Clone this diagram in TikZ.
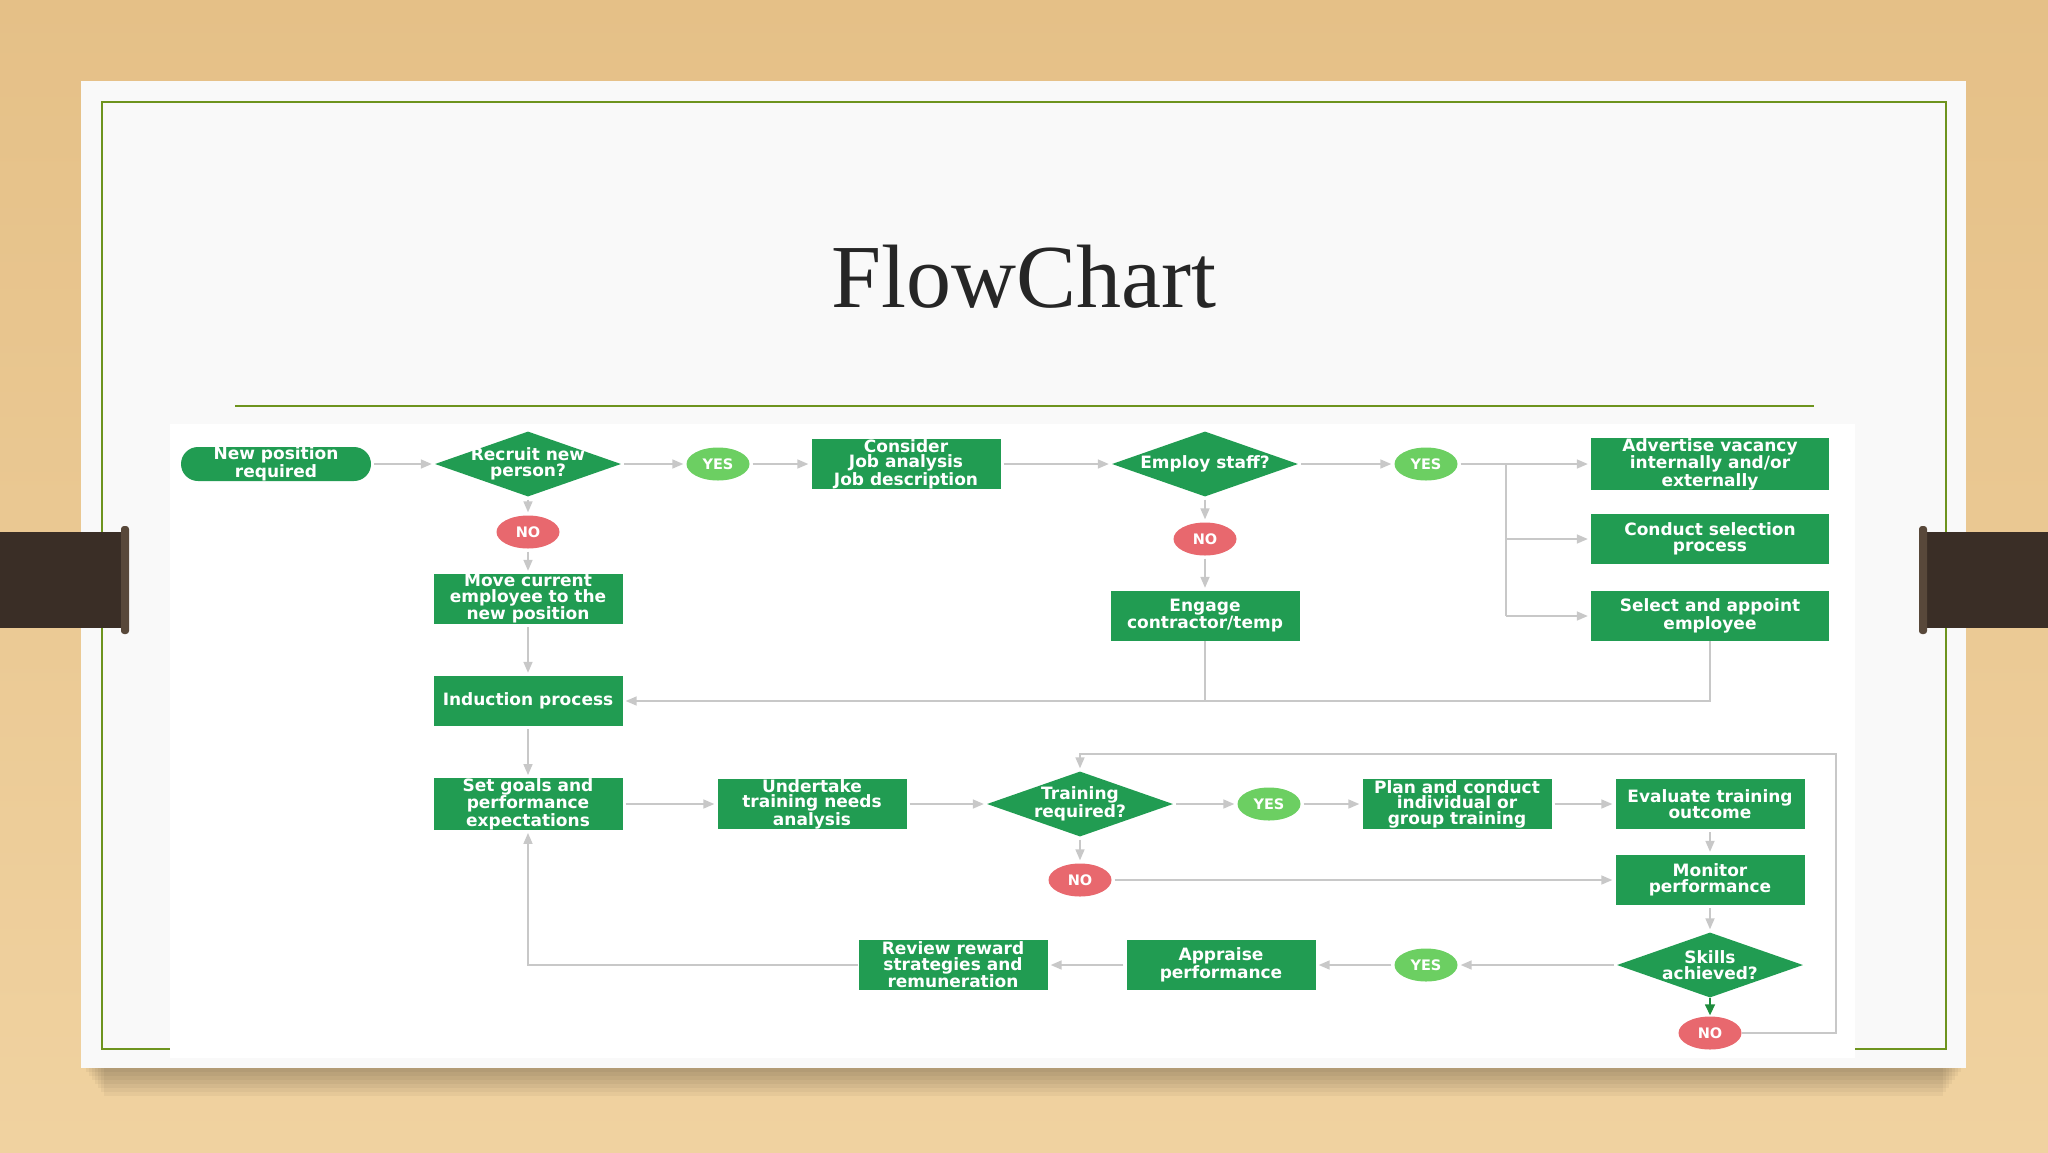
\documentclass[tikz,border=0pt]{standalone}
\usepackage{fontspec}
\setmainfont{Liberation Serif}
\newfontfamily\boxfont{DejaVu Sans}
\usetikzlibrary{shapes.geometric,arrows.meta}
\definecolor{woodtop}{RGB}{229,192,135}
\definecolor{woodbot}{RGB}{240,210,160}
\definecolor{slidebg}{RGB}{249,249,249}
\definecolor{framegreen}{RGB}{110,148,30}
\definecolor{titlegray}{RGB}{38,38,38}
\definecolor{tabbrown}{RGB}{58,46,38}
\definecolor{tabcap}{RGB}{88,72,58}
\definecolor{boxgreen}{RGB}{33,156,82}
\definecolor{yesgreen}{RGB}{108,207,98}
\definecolor{nored}{RGB}{232,104,110}
\definecolor{linegray}{RGB}{200,200,200}
\definecolor{darkarrow}{RGB}{30,140,60}
\tikzset{
  titlestyle/.style={font=\fontsize{90}{90}\selectfont, text=titlegray, anchor=base, inner sep=0pt},
  boxtext/.style={text=white, font=\boxfont\bfseries\fontsize{17}{15.5}\selectfont, align=center},
  stepbox/.style={rectangle, fill=boxgreen, minimum width=189pt, minimum height=50pt, inner sep=0pt, boxtext},
  widebox/.style={stepbox, minimum width=238pt},
  startbox/.style={rectangle, rounded corners=17pt, fill=boxgreen, minimum width=190pt, minimum height=34pt, inner sep=0pt, boxtext},
  decision/.style={diamond, fill=boxgreen, minimum width=186pt, minimum height=65pt, inner sep=0pt},
  dtext/.style={boxtext, inner sep=0pt},
  yesnode/.style={ellipse, fill=yesgreen, minimum width=63pt, minimum height=33pt, inner sep=0pt, text=white, font=\boxfont\bfseries\fontsize{14.5}{14.5}\selectfont},
  nonode/.style={yesnode, fill=nored},
  conn/.style={draw=linegray, line width=1.6pt, -{Triangle[length=11pt,width=9pt]}, shorten >=3pt, shorten <=3pt},
  plainconn/.style={draw=linegray, line width=1.6pt},
  greenconn/.style={draw=darkarrow, line width=1.6pt, -{Triangle[length=11pt,width=10pt]}, shorten >=1pt}
}
\begin{document}
\begin{tikzpicture}[x=1pt,y=-1pt]
\useasboundingbox (0,0) rectangle (2048,1152);
% background wood
\shade[top color=woodtop,bottom color=woodbot] (0,0) rectangle (2048,1152);
% shadow under slide
\foreach \i in {0,...,6} \fill[black,opacity=0.04] (86+\i*3,1066) rectangle (1961-\i*3,1072+\i*4);
% slide
\fill[slidebg] (81,81) rectangle (1966,1068);
\draw[framegreen,line width=2.5pt] (102,102) rectangle (1946,1049);
\node[titlestyle] (title) at (1024,307) {FlowChart};
\draw[framegreen,line width=2.5pt] (235,406) -- (1814,406);
% flowchart image area
\fill[white] (170,424) rectangle (1855,1058);
% tabs
\fill[tabbrown] (0,532) rectangle (126,628);
\fill[tabcap, rounded corners=3pt] (121,526) rectangle (129,634);
\fill[tabbrown] (1922,532) rectangle (2048,628);
\fill[tabcap, rounded corners=3pt] (1919,526) rectangle (1927,634);

% nodes
\node[startbox] (NP) at (276,464) {New position\\required};
\node[decision] (R) at (528,464) {};
\node[dtext] (Rt) at (R) {Recruit new\\person?};
\node[yesnode] (Y1) at (718,464) {YES};
\node[stepbox] (C) at (906,464) {Consider\\Job analysis\\Job description};
\node[decision] (E) at (1205,464) {};
\node[dtext] (Et) at (E) {Employ staff?};
\node[yesnode] (Y2) at (1426,464) {YES};
\node[widebox] (Adv) at (1710,464) {Advertise vacancy\\internally and/or\\externally};
\node[nonode] (N1) at (528,532) {NO};
\node[nonode] (N2) at (1205,539) {NO};
\node[widebox] (Cond) at (1710,539) {Conduct selection\\process};
\node[stepbox] (Mv) at (528,599) {Move current\\employee to the\\new position};
\node[stepbox] (Eng) at (1205,616) {Engage\\contractor/temp};
\node[widebox] (Sel) at (1710,616) {Select and appoint\\employee};
\node[stepbox] (Ind) at (528,701) {Induction process};
\node[stepbox] (Sg) at (528,804) {Set goals and\\performance\\expectations};
\node[stepbox] (Ut) at (812,804) {Undertake\\training needs\\analysis};
\node[decision] (T) at (1080,804) {};
\node[dtext] (Tt) at (T) {Training\\required?};
\node[yesnode] (Y3) at (1269,804) {YES};
\node[stepbox] (Pl) at (1457,804) {Plan and conduct\\individual or\\group training};
\node[stepbox] (Ev) at (1710,804) {Evaluate training\\outcome};
\node[nonode] (N3) at (1080,880) {NO};
\node[stepbox] (Mon) at (1710,880) {Monitor\\performance};
\node[decision] (Sk) at (1710,965) {};
\node[dtext] (Skt) at (Sk) {Skills\\achieved?};
\node[yesnode] (Y4) at (1426,965) {YES};
\node[stepbox] (Ap) at (1221,965) {Appraise\\performance};
\node[stepbox] (Rv) at (953,965) {Review reward\\strategies and\\remuneration};
\node[nonode] (N4) at (1710,1033) {NO};

% helper coordinates
\coordinate (br) at (1506,464);
\coordinate (brm) at (1506,539);
\coordinate (brb) at (1506,616);
\coordinate (lpr) at (1836,1033);
\coordinate (lpt) at (1836,754);
\coordinate (lpl) at (1080,754);

% connectors
\draw[conn] (NP) -- (R);
\draw[conn] (R) -- (Y1);
\draw[conn] (Y1) -- (C);
\draw[conn] (C) -- (E);
\draw[conn] (E) -- (Y2);
\draw[conn] (Y2) -- (Adv);
\draw[plainconn] (br) -- (brb);
\draw[conn,shorten <=0pt] (brm) -- (Cond);
\draw[conn,shorten <=0pt] (brb) -- (Sel);
\draw[conn] (R) -- (N1);
\draw[conn] (N1) -- (Mv);
\draw[conn] (Mv) -- (Ind);
\draw[conn] (E) -- (N2);
\draw[conn] (N2) -- (Eng);
\draw[conn,shorten <=0pt] (Sel.south) |- (Ind.east);
\draw[plainconn] (Eng.south) -- (Eng.south |- Ind.east);
\draw[conn] (Ind) -- (Sg);
\draw[conn] (Sg) -- (Ut);
\draw[conn] (Ut) -- (T);
\draw[conn] (T) -- (Y3);
\draw[conn] (Y3) -- (Pl);
\draw[conn] (Pl) -- (Ev);
\draw[conn] (T) -- (N3);
\draw[conn] (N3) -- (Mon);
\draw[conn] (Ev) -- (Mon);
\draw[conn] (Mon) -- (Sk);
\draw[conn] (Sk) -- (Y4);
\draw[conn] (Y4) -- (Ap);
\draw[conn] (Ap) -- (Rv);
\draw[conn,shorten <=0pt] (Rv.west) -| (Sg.south);
\draw[greenconn] (Sk.south) -- (N4.north);
\draw[conn,shorten <=0pt] (N4.east) -- (lpr) -- (lpt) -- (lpl) -- (T.north);
\end{tikzpicture}
\end{document}
